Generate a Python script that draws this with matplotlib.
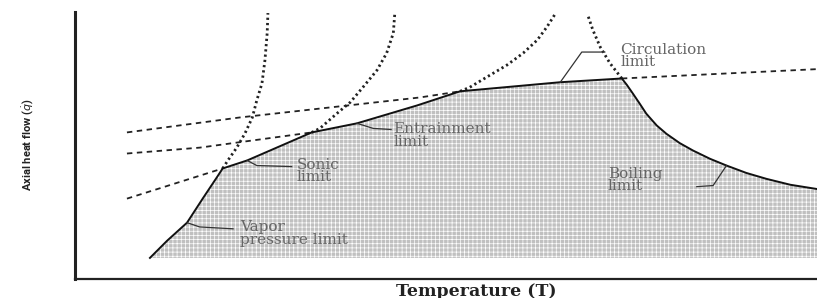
import matplotlib
matplotlib.use("Agg")
import matplotlib.pyplot as plt

plt.rcParams["hatch.linewidth"] = 0.5

# operating envelope (solid, shaded below)
env_x = [10.1, 12.4, 15.1, 17.3, 19.1, 19.9, 23.2, 31.9, 38.0, 46.1, 51.9,
         65.4, 73.7, 74.4, 75.2, 76.1, 77.0, 78.4, 79.7, 81.5, 83.3, 85.6,
         87.8, 90.5, 93.2, 96.4, 100.0]
env_y = [7.9, 14.3, 21.1, 30.5, 38.0, 41.4, 44.4, 54.9, 58.3, 65.0, 70.3,
         73.7, 75.1, 72.6, 69.4, 65.7, 61.9, 57.5, 54.4, 50.9, 48.1, 45.0,
         42.5, 39.7, 37.5, 35.3, 33.7]
floor_y = 7.9

# dotted upward extensions
vapor_ext_x = [19.9, 20.6, 21.8, 22.9, 23.9, 24.5, 25.2, 25.6, 25.9, 26.0]
vapor_ext_y = [41.4, 44.4, 49.2, 54.5, 60.5, 66.9, 73.3, 82.0, 92.1, 99.6]
sonic_ext_x = [31.9, 33.0, 35.3, 37.1, 38.8, 40.7, 42.0, 42.9, 43.1]
sonic_ext_y = [54.9, 56.4, 62.0, 66.2, 71.8, 78.2, 84.6, 92.1, 99.6]
entr_ext_x = [51.9, 53.2, 55.9, 58.2, 60.4, 62.3, 63.6, 64.7]
entr_ext_y = [70.3, 71.8, 76.3, 80.1, 84.6, 89.5, 94.4, 99.2]
boil_ext_x = [73.7, 72.1, 70.8, 69.8, 69.1]
boil_ext_y = [75.1, 80.8, 86.8, 93.2, 98.9]

# dashed sideways extensions
sonic_left_x = [7.0, 19.9]
sonic_left_y = [30.1, 41.4]
entr_left_x = [7.0, 16.8, 31.9]
entr_left_y = [47.0, 49.2, 54.9]
circ_left_x = [7.0, 22.2, 46.5, 51.9]
circ_left_y = [54.9, 60.5, 68.0, 70.3]
circ_right_x = [73.7, 100.0]
circ_right_y = [75.1, 78.6]

# labels: text, text x, text y, leader x, leader y
labels = ["Circulation\nlimit", "Entrainment\nlimit", "Sonic\nlimit",
          "Vapor\npressure limit", "Boiling\nlimit"]
label_x = [73.5, 42.9, 29.9, 22.2, 71.8]
label_y = [83.5, 53.8, 40.4, 17.1, 37.2]
leader_x = [[65.4, 68.3, 71.4], [38.0, 40.2, 42.6], [23.2, 24.5, 29.2],
            [15.1, 16.8, 21.3], [87.8, 86.0, 83.8]]
leader_y = [[73.7, 85.0, 85.0], [58.3, 56.4, 56.0], [44.4, 42.5, 42.1],
            [21.1, 19.5, 18.8], [42.5, 35.0, 34.6]]

fig = plt.figure(figsize=(8.17, 2.98), dpi=100)
ax = fig.add_axes([75 / 817, 19 / 298, 742 / 817, 267 / 298])
ax.set_xlim(0, 100)
ax.set_ylim(0, 100)

ax.fill_between(env_x, floor_y, env_y, facecolor="#c0c0c0",
                edgecolor="white", hatch="++++", linewidth=0, zorder=1)
ax.plot(env_x, env_y, color="#111111", lw=1.4, zorder=4)

dots = dict(color="#222222", lw=2.0, linestyle=(0, (0.8, 1.1)),
            dash_capstyle="butt", zorder=3)
for xs, ys in [(vapor_ext_x, vapor_ext_y), (sonic_ext_x, sonic_ext_y),
               (entr_ext_x, entr_ext_y), (boil_ext_x, boil_ext_y)]:
    ax.plot(xs, ys, **dots)

dash = dict(color="#222222", lw=1.3, linestyle=(0, (3, 2.5)), zorder=3)
for xs, ys in [(sonic_left_x, sonic_left_y), (entr_left_x, entr_left_y),
               (circ_left_x, circ_left_y), (circ_right_x, circ_right_y)]:
    ax.plot(xs, ys, **dash)

for txt, tx, ty, lx, ly in zip(labels, label_x, label_y, leader_x, leader_y):
    ax.plot(lx, ly, color="#333333", lw=0.9, zorder=5)
    ax.text(tx, ty, txt, ha="left", va="center", fontsize=11,
            family="DejaVu Serif", color="#666666", linespacing=0.85, zorder=6)

for s in ["top", "right"]:
    ax.spines[s].set_visible(False)
ax.spines["left"].set_linewidth(2.2)
ax.spines["bottom"].set_linewidth(1.6)
ax.spines["left"].set_color("#222222")
ax.spines["bottom"].set_color("#222222")
ax.set_xticks([])
ax.set_yticks([])

fig.text(476 / 817, 1 - 291 / 298, "Temperature (T)", ha="center", va="center",
         fontsize=12.5, fontweight="bold", family="DejaVu Serif", color="#222222")
fig.text(28 / 817, 1 - 145 / 298, r"Axial heat flow ($\dot{q}$)", rotation=90,
         ha="center", va="center", fontsize=8, fontweight="bold",
         family="Roboto", color="#222222")

fig.savefig("out.png", dpi=100)
